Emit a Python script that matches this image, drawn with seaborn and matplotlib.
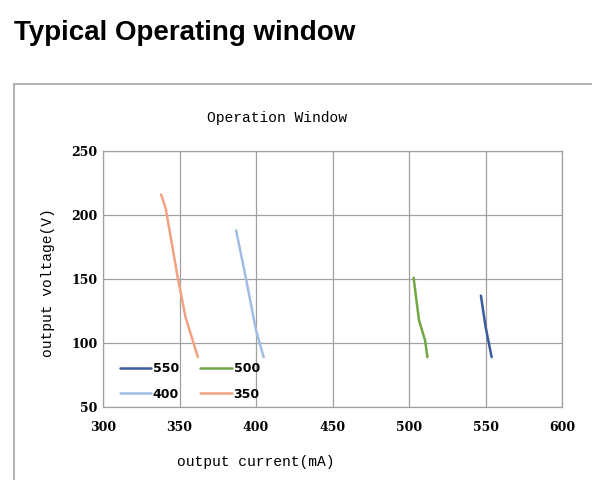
import matplotlib
matplotlib.use("Agg")
import matplotlib.pyplot as plt
import seaborn as sns
import pandas as pd
from matplotlib.patches import Rectangle

# data
current_550 = [547, 550, 554]
voltage_550 = [137, 113, 89]
current_500 = [503, 506.5, 510.5, 512]
voltage_500 = [151, 118, 102, 89]
current_400 = [387, 393.5, 400, 405]
voltage_400 = [188, 150, 110, 89]
current_350 = [338, 341, 349, 354, 362]
voltage_350 = [216, 205, 150, 120, 89]

series_names = ["550", "400", "500", "350"]
colors = {"550": "#3b5c9c", "500": "#6fa845", "400": "#a2bde2", "350": "#f2a283"}

x_ticks = [300, 350, 400, 450, 500, 550, 600]
y_ticks = [50, 100, 150, 200, 250]

rows = []
for name, xs, ys in [("550", current_550, voltage_550), ("400", current_400, voltage_400),
                     ("500", current_500, voltage_500), ("350", current_350, voltage_350)]:
    for x, y in zip(xs, ys):
        rows.append({"series": name, "current": x, "voltage": y})
df = pd.DataFrame(rows)

sns.set_theme(style="whitegrid")
plt.rcParams["font.family"] = ["Liberation Mono", "DejaVu Sans"]
plt.rcParams["text.color"] = "black"
plt.rcParams["xtick.color"] = "black"
plt.rcParams["ytick.color"] = "black"

fig = plt.figure(figsize=(5.92, 4.8), dpi=100)
ax = fig.add_axes([103 / 592, 1 - 407 / 480, (562 - 103) / 592, (407 - 151) / 480])

# outer chart frame
fig.patches.append(Rectangle((14 / 592, -0.1), 1.0, 1 - 84 / 480 + 0.1, transform=fig.transFigure,
                             fill=False, edgecolor="#a6a6a6", linewidth=1.2))

sns.lineplot(data=df, x="current", y="voltage", hue="series", hue_order=series_names,
             palette=colors, sort=False, estimator=None, linewidth=1.8, ax=ax)

ax.set_xlim(300, 600)
ax.set_ylim(50, 250)
ax.set_xticks(x_ticks)
ax.set_yticks(y_ticks)
ax.set_xticklabels([str(t) for t in x_ticks], fontsize=9, fontweight="bold", family="DejaVu Serif")
ax.set_yticklabels([str(t) for t in y_ticks], fontsize=9, fontweight="bold", family="DejaVu Serif")
ax.tick_params(axis="y", length=0, pad=4)
ax.tick_params(axis="x", length=0, pad=10)
ax.grid(True, color="#a0a0a0", linewidth=0.9)
for s in ax.spines.values():
    s.set_color("#a0a0a0")
    s.set_linewidth(0.9)
ax.set_xlabel("")
ax.set_ylabel("")

leg = ax.legend(ncol=2, loc="lower left", bbox_to_anchor=(0.012, -0.02), frameon=False,
                handlelength=2.5, columnspacing=1.7, handletextpad=0.15, labelspacing=1.0,
                prop={"weight": "bold", "family": "DejaVu Sans", "size": 9})

fig.text(14 / 592, 1 - 40 / 480, "Typical Operating window", fontsize=20, fontweight="bold",
         family="Liberation Sans", ha="left", va="baseline")
fig.text(277 / 592, 1 - 118 / 480, "Operation Window", fontsize=10.5, ha="center", va="center")
fig.text(256 / 592, 1 - 462 / 480, "output current(mA)", fontsize=10.5, ha="center", va="center")
fig.text(48 / 592, 1 - 283 / 480, "output voltage(V)", fontsize=10.5, ha="center", va="center",
         rotation=90)

fig.savefig("out.png", dpi=100)
